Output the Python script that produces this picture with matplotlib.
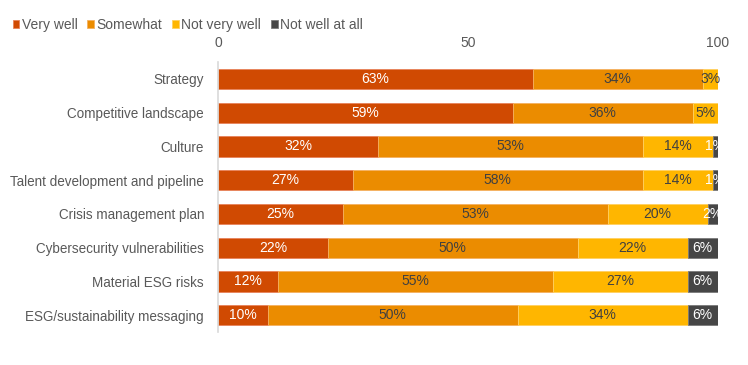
import matplotlib.pyplot as plt
import numpy as np

plt.rcParams['font.family'] = ['Liberation Sans', 'DejaVu Sans']

categories = ['Strategy', 'Competitive landscape', 'Culture',
              'Talent development and pipeline', 'Crisis management plan',
              'Cybersecurity vulnerabilities', 'Material ESG risks',
              'ESG/sustainability messaging']
very_well = [63, 59, 32, 27, 25, 22, 12, 10]
somewhat = [34, 36, 53, 58, 53, 50, 55, 50]
not_very_well = [3, 5, 14, 14, 20, 22, 27, 34]
not_at_all = [0, 0, 1, 1, 2, 6, 6, 6]
series_names = ['Very well', 'Somewhat', 'Not very well', 'Not well at all']

colors = ['#D04A02', '#EB8C00', '#FFB600', '#464646']
edges = ['#E8825A', '#F4B060', '#FFD060', '#7A7A7A']
label_colors = ['white', '#404040', '#404040', 'white']

fig = plt.figure(figsize=(7.48, 3.65), dpi=100)
ax = fig.add_axes([0.2914, 0.0904, 0.668, 0.7396])

y = np.arange(len(categories))
left = np.zeros(len(categories))
handles = []
for name, vals, c, ec, lc in zip(series_names,
                                 [very_well, somewhat, not_very_well, not_at_all],
                                 colors, edges, label_colors):
    vals = np.array(vals, dtype=float)
    bars = ax.barh(y, vals, left=left, height=0.6, color=c,
                   edgecolor=ec, linewidth=0.6, label=name)
    handles.append(bars)
    for yi, l, v in zip(y, left, vals):
        if v > 0:
            ax.text(l + v / 2, yi, f'{int(v)}%', ha='center', va='center',
                    fontsize=10, color=lc)
    left += vals

ax.set_xlim(0, 100)
ax.set_ylim(7.5, -0.5)
ax.set_yticks(y)
ax.set_yticklabels(categories, fontsize=9.75, color='#595959')
ax.set_xticks([0, 50, 100])
ax.xaxis.tick_top()
ax.tick_params(axis='x', length=0, labelsize=10, labelcolor='#595959', pad=9)
ax.tick_params(axis='y', length=0, pad=10)
for s in ['top', 'right', 'bottom']:
    ax.spines[s].set_visible(False)
ax.spines['left'].set_color('#D9D9D9')
ax.spines['left'].set_linewidth(1.2)

fig.legend(handles=handles, loc='upper left', bbox_to_anchor=(0.0, 0.984),
           ncol=4, frameon=False, fontsize=10, handlelength=0.5,
           handleheight=0.5, handletextpad=0.15, columnspacing=0.72,
           labelcolor='#595959')

fig.savefig('out.png', dpi=100)
